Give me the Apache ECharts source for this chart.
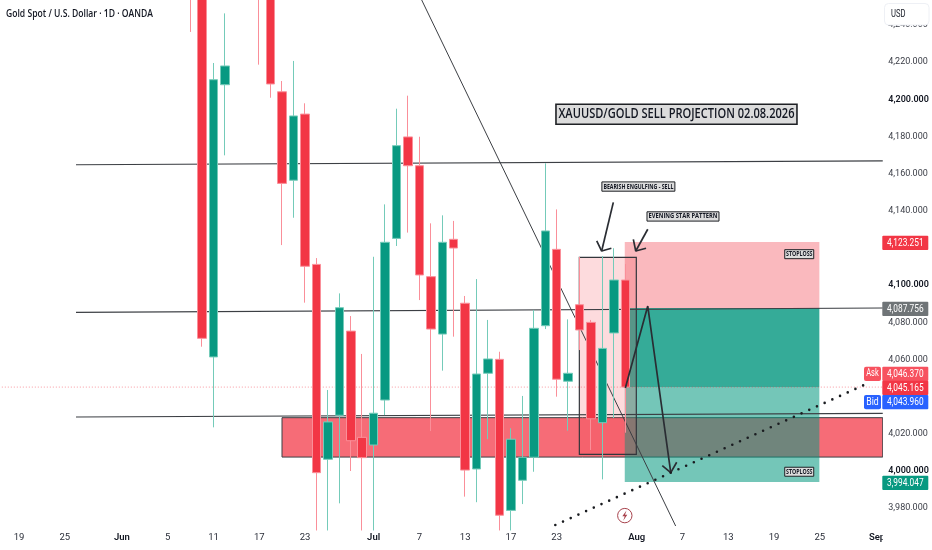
<!DOCTYPE html>
<html><head><meta charset="utf-8">
<style>html,body{margin:0;padding:0;background:#fff}#c{width:932px;height:550px}</style>
<script src="https://cdn.jsdelivr.net/npm/echarts@6/dist/echarts.min.js"></script>
</head><body><div id="c"></div><script>
// ---- data ----
const categories = ['05-18','05-19','05-20','05-21','05-22','05-25','05-26','05-27','05-28','05-29',
 '06-01','06-02','06-03','06-04','06-05','06-08','06-09','06-10','06-11','06-12',
 '06-15','06-16','06-17','06-18','06-19','06-22','06-23','06-24','06-25','06-26',
 '06-29','06-30','07-01','07-02','07-03','07-06','07-07','07-08','07-09','07-10',
 '07-13','07-14','07-15','07-16','07-17','07-20','07-21','07-22','07-23','07-24',
 '07-27','07-28','07-29','07-30','07-31','08-03','08-04','08-05','08-06','08-07',
 '08-10','08-11','08-12','08-13','08-14','08-17','08-18','08-19','08-20','08-21',
 '08-24','08-25','08-26','08-27','08-28','08-31','09-01'];
const xTickLabels = {'05-19':'19','05-25':'25','06-01':'Jun','06-05':'5','06-11':'11','06-17':'17','06-23':'23',
 '07-01':'Jul','07-07':'7','07-13':'13','07-17':'17','07-23':'23','08-03':'Aug','08-07':'7','08-13':'13','08-19':'19','08-25':'25','09-01':'Sep'};
const yTicks = [3980,4000,4020,4060,4080,4100,4140,4160,4180,4200,4220,4240];
const yStrongTicks = [4000,4100,4200];
// [open, close, low, high] by date
const candles = {
 '06-09':[4275,4262,4236.3,4290],'06-10':[4290,4071.4,4066.9,4300],'06-11':[4061.4,4210.6,4023.5,4219.6],
 '06-12':[4207.9,4218,4169.9,4246.3],'06-15':[4275,4290,4262,4300],'06-16':[4300,4280,4270,4310],
 '06-17':[4285,4262,4218.7,4295],'06-18':[4265,4208.3,4200.9,4275],'06-19':[4204.1,4154.8,4121.6,4209.9],
 '06-22':[4156.5,4191.1,4136.3,4220.7],'06-23':[4192.1,4110.2,4090.6,4197.9],'06-24':[4111.2,3999.1,3968,4114.6],
 '06-25':[4006.3,4026.4,3968,4043.6],'06-26':[4030,4087.9,3982.6,4095.6],'06-29':[4075.3,4016.3,4000,4083.4],
 '06-30':[4018.1,4007.2,3968,4063],'07-01':[4014,4031.1,3968,4115.3],'07-02':[4038.2,4123.1,4030.1,4143.5],
 '07-03':[4125.2,4175.1,4121.1,4195],'07-06':[4179.8,4164.3,4128.3,4202],'07-07':[4164.3,4105.5,4092,4179.9],
 '07-08':[4104.6,4076.4,4021.5,4133.3],'07-09':[4073.7,4123.1,4054,4137.6],'07-10':[4124.7,4120,4072.3,4134.6],
 '07-13':[4090.3,4000.5,3986.2,4094.2],'07-14':[4001.1,4052.2,3983.2,4103.3],'07-15':[4052.6,4060.3,4017.1,4081.3],
 '07-16':[4060.1,3976.2,3968,4064.2],'07-17':[3978.8,4017.1,3968,4023],'07-20':[3995,4007.4,3982.2,4040.4],
 '07-21':[4007.4,4076.8,3999.6,4086.7],'07-22':[4078.2,4129.2,4076.4,4165.6],'07-23':[4119.3,4049.4,4040,4140.8],
 '07-24':[4048.3,4052.6,4021.7,4081.6],'07-27':[4089.5,4075.9,4065.1,4115.2],'07-28':[4080,4028.1,4011.3,4081.3],
 '07-29':[4026,4066,3995.5,4115.7],'07-30':[4074.3,4102.8,4028.5,4119.9],'07-31':[4102.8,4045.165,4020.6,4111.4]
};
// overlay drawings: x is a bar position, y a price
const supportLevel = [[5.98,4029.1],[76.5,4031]];
const midLevel = [[5.98,4085.4],[76.5,4087.7]];
const topLevel = [[5.98,4164.8],[76.5,4166.9]];
const diagonal = [[36.2,4253.5],[58.4,3970.4]];
const priceLine = [[-0.5,4045.165],[76.5,4045.165]];
const dottedTrend = [[47.88,3970.9],[75.3,4047.5]];
const projection = [[54,4044.7],[55.96,4088.8],[57.97,3999.1]];
const projectionHead = [[57.23,4002.9],[57.97,3999.1],[58.49,4004.7]];
const arrowA = [[52.95,4144.6],[51.93,4118.4]];
const arrowAHead = [[51.5,4123.9],[51.93,4118.4],[52.78,4119.9]];
const arrowB = [[55.96,4130.1],[54.91,4118.4]];
const arrowBHead = [[54.7,4124.7],[54.91,4118.4],[55.81,4119.9]];
const zoneBox = [23.99,4028.7,76.5,4007.5];
const stopBox = [53.95,4123.251,70.96,4087.756];
const profitBoxA = [53.95,4087.756,70.96,4045.165];
const profitBoxB = [53.95,4045.165,70.96,3994.047];
const patternBox = [49.98,4115,54.96,4009];
const notes = [
 {name:'XAUUSD/GOLD SELL PROJECTION 02.08.2026',at:[58.47,4192],kind:'main'},
 {name:'BEARISH ENGULFING - SELL',at:[55.14,4153.1],kind:'bearish'},
 {name:'EVENING STAR PATTERN',at:[59.04,4137],kind:'evening'},
 {name:'STOPLOSS',at:[69.2,4116.7],kind:'stop'},
 {name:'STOPLOSS',at:[69.2,3999.6],kind:'stop'}
];
const titleText = 'Gold Spot / U.S. Dollar · 1D · OANDA';
const priceTags = [
 {text:'4,123.251',kind:'red'},{text:'4,087.756',kind:'gray'},{text:'4,046.370',kind:'ask'},
 {text:'4,045.165',kind:'red2'},{text:'4,043.960',kind:'bid'},{text:'3,994.047',kind:'green'}
];

// ---- styling / build ----
const UI = 'Roboto,"Open Sans",sans-serif';
const NOTE = '"Open Sans","Noto Sans",sans-serif';
const RED='#F23645', GREEN='#089981', DARK='#2a2d33';
const candleData = categories.map(c => candles[c] || ['-','-','-','-']);
const fmt = v => Number(v).toLocaleString('en-US',{minimumFractionDigits:3,maximumFractionDigits:3});
const mc=document.createElement('canvas').getContext('2d');
function squeeze(text,family,size,weight,target){mc.font=weight+' '+size+'px '+family;return target/mc.measureText(text).width;}
function poly(data,color,width,z,extra){
  return {type:'line',xAxisIndex:1,data,symbol:'none',silent:true,animation:false,z,
    lineStyle:Object.assign({color,width},extra||{}),itemStyle:{color},clip:true};
}
const rects=[
 {b:zoneBox,fill:'rgba(242,54,69,0.73)',stroke:'#3c3f44',lw:1},
 {b:stopBox,fill:'rgba(242,54,69,0.35)'},
 {b:profitBoxA,fill:'rgba(8,153,129,0.82)'},
 {b:profitBoxB,fill:'rgba(8,153,129,0.56)'},
 {b:patternBox,fill:'rgba(242,54,69,0.18)',stroke:'#33363c',lw:1.2}
];
const rectSeries={type:'custom',xAxisIndex:1,z:1,silent:true,animation:false,clip:true,
 data:rects.map(r=>r.b),encode:{x:[0,2],y:[1,3]},
 renderItem(p,api){
  const r=rects[p.dataIndex];
  const a=api.coord([api.value(0),api.value(1)]),b=api.coord([api.value(2),api.value(3)]);
  return {type:'rect',shape:{x:a[0],y:a[1],width:b[0]-a[0],height:b[1]-a[1]},
   style:{fill:r.fill,stroke:r.stroke||null,lineWidth:r.lw||0}};
 }};
const noteStyle={
 main:{w:241,h:20,fontSize:13.5,lw:1.6,target:236,weight:600},
 bearish:{w:73,h:9.3,fontSize:7,lw:1,target:70,weight:700},
 evening:{w:72,h:9.3,fontSize:7,lw:1,target:69,weight:700},
 stop:{w:29,h:9,fontSize:6.5,lw:1,target:26.5,weight:700}
};
const noteSeries={type:'custom',xAxisIndex:1,z:7,silent:true,animation:false,clip:false,
 data:notes.map(n=>({name:n.name,value:n.at})),encode:{x:0,y:1},
 renderItem(p,api){
  const n=notes[p.dataIndex],s=noteStyle[n.kind],c=api.coord([api.value(0),api.value(1)]);
  return {type:'group',children:[
   {type:'rect',shape:{x:c[0]-s.w/2,y:c[1]-s.h/2,width:s.w,height:s.h},style:{fill:'#dcdcdc',stroke:'#1f2125',lineWidth:s.lw}},
   {type:'text',x:c[0],y:c[1],scaleX:squeeze(n.name,NOTE,s.fontSize,s.weight,s.target),
    style:{text:n.name,fill:'#131722',fontFamily:NOTE,fontSize:s.fontSize,fontWeight:s.weight,align:'center',verticalAlign:'middle'}}
  ]};
 }};
const TAGX=882.3,TAGW=46;
const tagPos={red:[235.7,RED],gray:[301.7,'#6f7477'],ask:[366.7,'#F7525F'],red2:[380.7,RED],bid:[395,'#2962FF'],green:[475.7,GREEN]};
const txt=(text,x,y,fill,size,weight,align,target,family)=>({type:'text',z:21,x,y,
  scaleX:squeeze(text,family||UI,size,weight||'normal',target),
  style:{text,fill,fontFamily:family||UI,fontSize:size,fontWeight:weight||'normal',align:align||'left',verticalAlign:'middle'}});
const tagG=[];
priceTags.forEach(t=>{const [y,c]=tagPos[t.kind];
 tagG.push({type:'rect',z:20,shape:{x:TAGX,y,width:TAGW,height:14.3,r:1},style:{fill:c}});
 tagG.push(txt(t.text,TAGX+23,y+7.2,'#fff',10.5,'normal','center',36.5));
});
[['Ask',366.7,'#F7525F'],['Bid',395,'#2962FF']].forEach(([s,y,c])=>{
 tagG.push({type:'rect',z:20,shape:{x:864,y,width:17,height:14.3,r:2},style:{fill:c}});
 tagG.push(txt(s,872.5,y+7.2,'#fff',10,'normal','center',12.5));
});
const option={
 backgroundColor:'#fff',animation:false,
 grid:{left:1.84,width:880.9,top:0,height:526,containLabel:false,outerBoundsMode:'none'},
 xAxis:[{type:'category',data:categories,boundaryGap:true,axisLine:{show:false},axisTick:{show:false},splitLine:{show:false},
   axisLabel:{margin:7,interval:(i,v)=>v in xTickLabels,formatter:v=>{const s=xTickLabels[v]||'';return /[A-Z]/.test(s)?'{m|'+s+'}':'{d|'+s+'}';},
    rich:{d:{fontFamily:UI,fontSize:9.5,color:'#2a2e39'},m:{fontFamily:UI,fontSize:9.5,color:'#131722',fontWeight:600}}}},
  {type:'value',min:-0.5,max:76.5,show:false,splitLine:{show:false}}],
 yAxis:{type:'value',position:'right',min:3970.4,max:4253.5,splitLine:{show:false},axisLine:{show:false},axisTick:{show:false},
   axisLabel:{customValues:yTicks,margin:5.5,align:'left',formatter:v=>yStrongTicks.includes(v)?'{b|'+fmt(v)+'}':'{n|'+fmt(v)+'}',
    rich:{n:{fontFamily:UI,fontSize:9,color:'#3a3d46'},b:{fontFamily:UI,fontSize:9,color:'#131722',fontWeight:600}}}},
 series:[
  rectSeries,
  poly(topLevel,'#3c3f44',1.1,2),poly(midLevel,'#3c3f44',1.1,2),poly(supportLevel,'#3c3f44',1.1,2),
  poly(diagonal,'#3c3f44',1,2),
  poly(priceLine,'#F23645',1,2,{type:[1,2],opacity:0.5}),
  {type:'candlestick',xAxisIndex:0,data:candleData,barWidth:9,z:4,silent:true,animation:false,clip:true,
   itemStyle:{color:GREEN,color0:RED,borderColor:'#74cbb9',borderColor0:'#fa8f99',borderWidth:1}},
  poly(projection,DARK,1.7,5),poly(projectionHead,DARK,1.7,5),
  poly(arrowA,DARK,1.7,5),poly(arrowAHead,DARK,1.7,5),
  poly(arrowB,DARK,1.7,5),poly(arrowBHead,DARK,1.7,5),
  poly(dottedTrend,'#1a1c20',2.6,5,{type:[0,8.45],cap:'round'}),
  noteSeries
 ],
 graphic:[
  {type:'rect',z:15,shape:{x:882.7,y:527,width:5,height:23},style:{fill:'#fff'}},
  txt(titleText,6,14,'#131722',10.5,600,'left',147,'"Open Sans",sans-serif'),
  {type:'rect',z:18,shape:{x:884.5,y:3.5,width:44.5,height:21.5,r:4},style:{fill:'#fff',stroke:'#eef0f5',lineWidth:1}},
  txt('USD',891,14.5,'#131722',10.5,'normal','left',14.5),
  {type:'circle',z:12,shape:{cx:624.8,cy:515.6,r:7.2},style:{fill:'#fff',stroke:'#a8434d',lineWidth:1}},
  {type:'polygon',z:13,shape:{points:[[626.5,510.5],[622.3,516.3],[624.7,516.3],[623.2,520.7],[627.3,514.7],[625,514.7]]},style:{fill:'#a8434d'}},
  ...tagG
 ]
};
const chart=echarts.init(document.getElementById('c'),null,{renderer:'canvas',width:932,height:550});
chart.setOption(option);
</script></body></html>
